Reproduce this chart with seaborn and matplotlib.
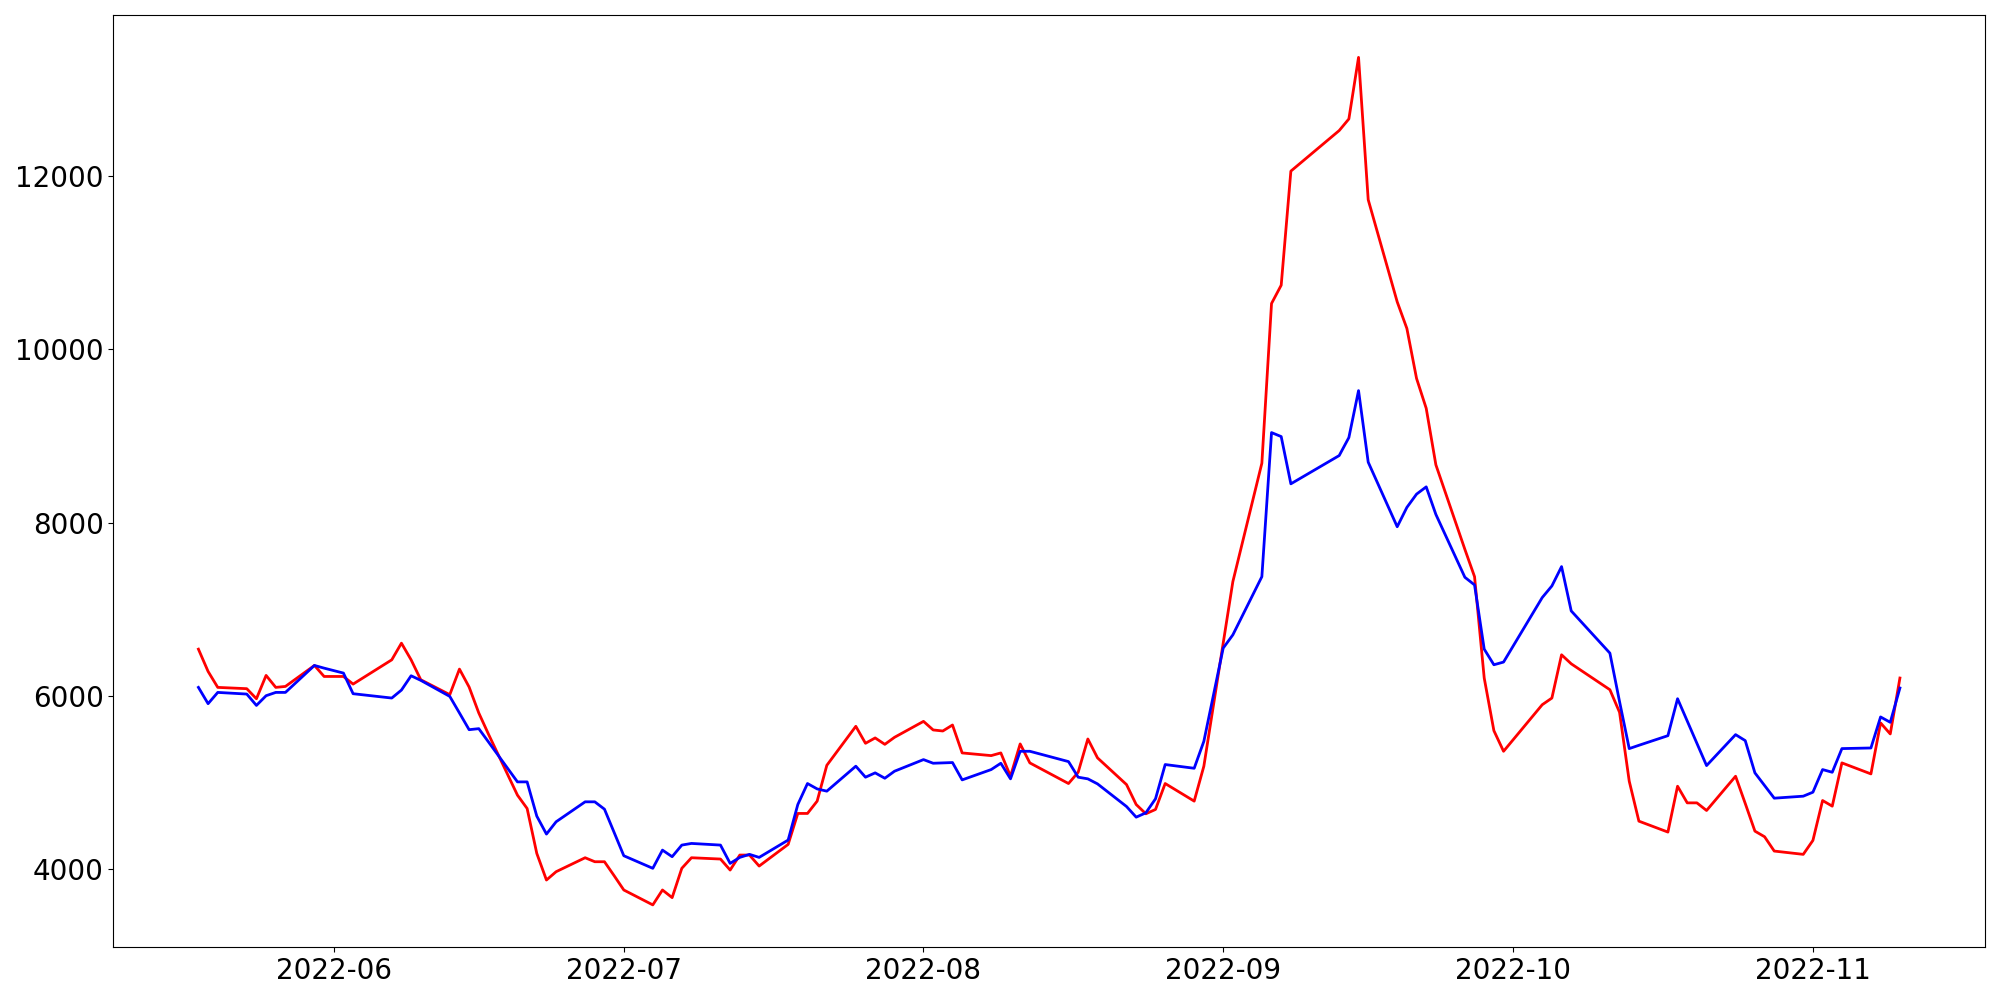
import matplotlib
matplotlib.use("Agg")
import matplotlib.pyplot as plt
import seaborn as sns
import pandas as pd

dates = [
    "2022-05-18", "2022-05-19", "2022-05-20", "2022-05-23", "2022-05-24", "2022-05-25", "2022-05-26", "2022-05-27", "2022-05-30", "2022-05-31",
    "2022-06-02", "2022-06-03", "2022-06-07", "2022-06-08", "2022-06-09", "2022-06-10", "2022-06-13", "2022-06-14", "2022-06-15", "2022-06-16",
    "2022-06-17", "2022-06-20", "2022-06-21", "2022-06-22", "2022-06-23", "2022-06-24", "2022-06-27", "2022-06-28", "2022-06-29", "2022-06-30",
    "2022-07-01", "2022-07-04", "2022-07-05", "2022-07-06", "2022-07-07", "2022-07-08", "2022-07-11", "2022-07-12", "2022-07-13", "2022-07-14",
    "2022-07-15", "2022-07-18", "2022-07-19", "2022-07-20", "2022-07-21", "2022-07-22", "2022-07-25", "2022-07-26", "2022-07-27", "2022-07-28",
    "2022-07-29",
    "2022-08-01", "2022-08-02", "2022-08-03", "2022-08-04", "2022-08-05", "2022-08-08", "2022-08-09", "2022-08-10", "2022-08-11", "2022-08-12",
    "2022-08-16", "2022-08-17", "2022-08-18", "2022-08-19", "2022-08-22", "2022-08-23", "2022-08-24", "2022-08-25", "2022-08-26", "2022-08-29",
    "2022-08-30", "2022-08-31",
    "2022-09-01", "2022-09-02", "2022-09-05", "2022-09-06", "2022-09-07", "2022-09-08", "2022-09-13", "2022-09-14", "2022-09-15", "2022-09-16",
    "2022-09-19", "2022-09-20", "2022-09-21", "2022-09-22", "2022-09-23", "2022-09-26", "2022-09-27", "2022-09-28", "2022-09-29", "2022-09-30",
    "2022-10-04", "2022-10-05", "2022-10-06", "2022-10-07", "2022-10-11", "2022-10-12", "2022-10-13", "2022-10-14", "2022-10-17", "2022-10-18",
    "2022-10-19", "2022-10-20", "2022-10-21", "2022-10-24", "2022-10-25", "2022-10-26", "2022-10-27", "2022-10-28", "2022-10-31",
    "2022-11-01", "2022-11-02", "2022-11-03", "2022-11-04", "2022-11-07", "2022-11-08", "2022-11-09", "2022-11-10",
]

red_values = [
    6540, 6283, 6099, 6084, 5968, 6237, 6099, 6110, 6352, 6225,
    6225, 6137, 6417, 6609, 6417, 6187, 6015, 6310, 6103, 5804,
    5560, 4856, 4702, 4184, 3877, 3973, 4134, 4088, 4088, 3927,
    3762, 3590, 3762, 3674, 4012, 4134, 4119, 3992, 4165, 4165,
    4038, 4288, 4645, 4645, 4787, 5200, 5650, 5454, 5516, 5442,
    5523,
    5707, 5608, 5596, 5665, 5343, 5312, 5343, 5074, 5447, 5228,
    4990, 5120, 5504, 5286, 4978, 4748, 4641, 4691, 4990, 4787,
    5190, 5899,
    6609, 7319, 8685, 10527, 10738, 12054, 12522, 12656, 13366, 11724,
    10546, 10239, 9663, 9318, 8666, 7691, 7376, 6207, 5600, 5362,
    5899, 5976, 6475, 6371, 6072, 5811, 5017, 4556, 4430, 4959,
    4767, 4767, 4679, 5074, 4760, 4441, 4376, 4211, 4173,
    4334, 4794, 4729, 5228, 5101, 5689, 5562, 6207,
]

blue_values = [
    6099, 5911, 6041, 6022, 5891, 6003, 6041, 6041, 6352, 6321,
    6264, 6026, 5976, 6068, 6233, 6180, 5995, 5804, 5611, 5623,
    5470, 5009, 5009, 4614, 4407, 4549, 4779, 4779, 4694, 4426,
    4157, 4012, 4222, 4146, 4280, 4299, 4280, 4069, 4138, 4173,
    4138, 4338, 4748, 4990, 4928, 4902, 5190, 5063, 5113, 5051,
    5132,
    5266, 5224, 5228, 5232, 5032, 5151, 5224, 5044, 5362, 5362,
    5243, 5063, 5044, 4986, 4725, 4602, 4652, 4814, 5209, 5166,
    5477, 6014,
    6552, 6705, 7376, 9038, 8992, 8447, 8773, 8981, 9522, 8697,
    7952, 8175, 8328, 8412, 8094, 7369, 7281, 6540, 6360, 6391,
    7135, 7269, 7492, 6981, 6494, 5934, 5393, 5431, 5542, 5968,
    5711, 5454, 5197, 5554, 5485, 5113, 4967, 4821, 4844,
    4890, 5151, 5120, 5393, 5400, 5758, 5696, 6092,
]

df = pd.DataFrame({
    "date": pd.to_datetime(dates),
    "red": red_values,
    "blue": blue_values,
})

fig, ax = plt.subplots(figsize=(20, 10), dpi=100)
sns.lineplot(data=df, x="date", y="red", color="red", linewidth=2, ax=ax)
sns.lineplot(data=df, x="date", y="blue", color="blue", linewidth=2, ax=ax)
ax.set_xlabel("")
ax.set_ylabel("")
ax.tick_params(axis="both", labelsize=20)
fig.tight_layout()
fig.savefig("out.png", dpi=100)
